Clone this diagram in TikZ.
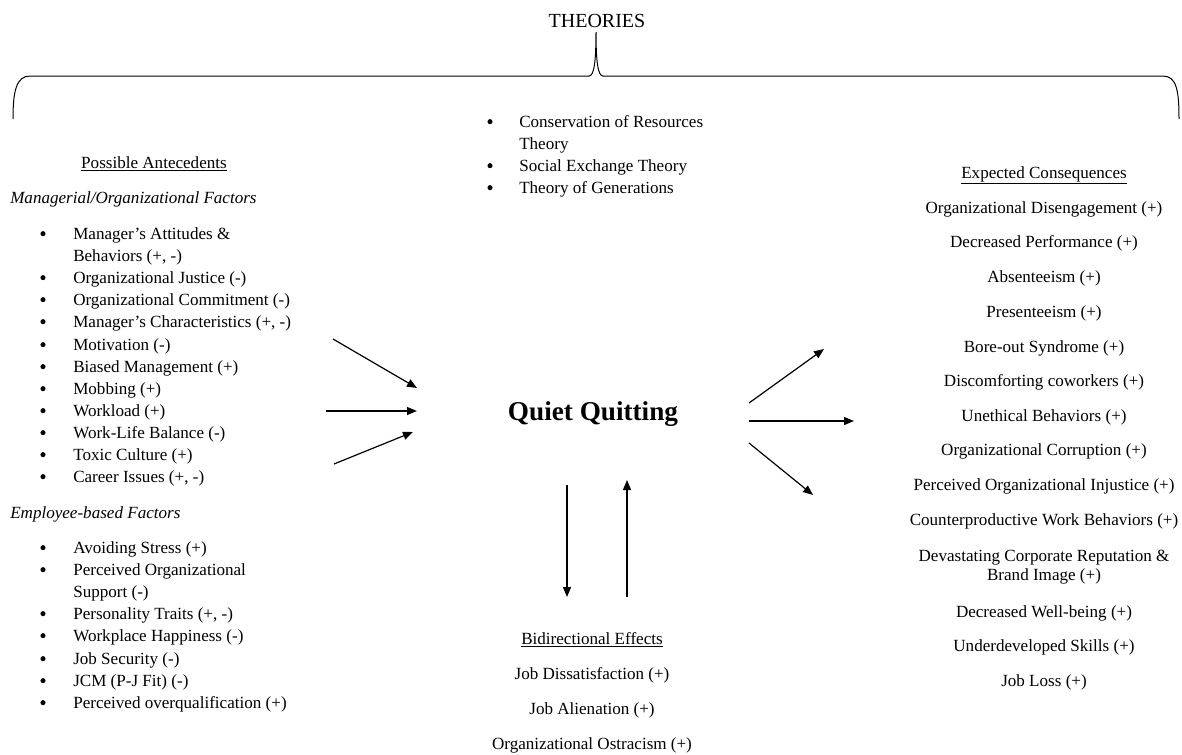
\documentclass[tikz,border=0pt]{standalone}
\usepackage{fontspec}
\setmainfont{Liberation Serif}
\usepackage{tikz}
\usetikzlibrary{arrows.meta}

\begin{document}
\begin{tikzpicture}[x=0.75pt,y=0.75pt,yscale=-1,xscale=1,
  txt/.style={inner sep=0pt,font=\fontsize{12.8}{15}\selectfont},
  bul/.style={circle,fill,inner sep=0pt,minimum size=3.8pt,yshift=4pt},
  arr/.style={line width=0.9pt,-{Triangle[length=7.5pt,width=6pt]}}]
\useasboundingbox (0,0) rectangle (1182,754); %set diagram to 1182 x 754

%Shape: Brace [id:theorybrace]
\draw [line width=0.75pt] (13,119) .. controls (13,92) and (16,76) .. (30,76) -- (589,76) .. controls (594,76) and (596,62) .. (596,32) .. controls (596,62) and (598,76) .. (603,76) -- (1163,76) .. controls (1177,76) and (1179,92) .. (1179,119) ;

% Text Node
\draw (597,27) node (theories) [inner sep=0pt,anchor=base,font=\fontsize{15}{18}\selectfont] {THEORIES};
% Text Node
\draw (490,127) node (tb1) [bul] {};
\draw (519,127) node (t1) [txt,anchor=base west] {Conservation of Resources};
\draw (519,149) node (t1b) [txt,anchor=base west] {Theory};
\draw (490,171) node (tb2) [bul] {};
\draw (519,171) node (t2) [txt,anchor=base west] {Social Exchange Theory};
\draw (490,193) node (tb3) [bul] {};
\draw (519,193) node (t3) [txt,anchor=base west] {Theory of Generations};

% Text Node
\draw (154,168) node (antec) [txt,anchor=base] {\underline{Possible Antecedents}};
% Text Node
\draw (10,203) node (mgrhead) [txt,anchor=base west] {\itshape Managerial/Organizational Factors};
% Text Node
\draw (43,239) node (mb1) [bul] {};
\draw (73,239) node (m1) [txt,anchor=base west] {Manager’s Attitudes \&};
\draw (73,261) node (m1b) [txt,anchor=base west] {Behaviors (+, -)};
\draw (43,283) node (mb2) [bul] {};
\draw (73,283) node (m2) [txt,anchor=base west] {Organizational Justice (-)};
\draw (43,305) node (mb3) [bul] {};
\draw (73,305) node (m3) [txt,anchor=base west] {Organizational Commitment (-)};
\draw (43,327) node (mb4) [bul] {};
\draw (73,327) node (m4) [txt,anchor=base west] {Manager’s Characteristics (+, -)};
\draw (43,350) node (mb5) [bul] {};
\draw (73,350) node (m5) [txt,anchor=base west] {Motivation (-)};
\draw (43,372) node (mb6) [bul] {};
\draw (73,372) node (m6) [txt,anchor=base west] {Biased Management (+)};
\draw (43,394) node (mb7) [bul] {};
\draw (73,394) node (m7) [txt,anchor=base west] {Mobbing (+)};
\draw (43,416) node (mb8) [bul] {};
\draw (73,416) node (m8) [txt,anchor=base west] {Workload (+)};
\draw (43,438) node (mb9) [bul] {};
\draw (73,438) node (m9) [txt,anchor=base west] {Work-Life Balance (-)};
\draw (43,460) node (mb10) [bul] {};
\draw (73,460) node (m10) [txt,anchor=base west] {Toxic Culture (+)};
\draw (43,482) node (mb11) [bul] {};
\draw (73,482) node (m11) [txt,anchor=base west] {Career Issues (+, -)};

% Text Node
\draw (10,518) node (emphead) [txt,anchor=base west] {\itshape Employee-based Factors};
% Text Node
\draw (43,553) node (eb1) [bul] {};
\draw (73,553) node (e1) [txt,anchor=base west] {Avoiding Stress (+)};
\draw (43,575) node (eb2) [bul] {};
\draw (73,575) node (e2) [txt,anchor=base west] {Perceived Organizational};
\draw (73,597) node (e2b) [txt,anchor=base west] {Support (-)};
\draw (43,619) node (eb3) [bul] {};
\draw (73,619) node (e3) [txt,anchor=base west] {Personality Traits (+, -)};
\draw (43,641) node (eb4) [bul] {};
\draw (73,641) node (e4) [txt,anchor=base west] {Workplace Happiness (-)};
\draw (43,664) node (eb5) [bul] {};
\draw (73,664) node (e5) [txt,anchor=base west] {Job Security (-)};
\draw (43,686) node (eb6) [bul] {};
\draw (73,686) node (e6) [txt,anchor=base west] {JCM (P-J Fit) (-)};
\draw (43,708) node (eb7) [bul] {};
\draw (73,708) node (e7) [txt,anchor=base west] {Perceived overqualification (+)};

% Text Node
\draw (593,420) node (quiet) [inner sep=0pt,anchor=base,font=\fontsize{20.4}{24}\selectfont\bfseries] {Quiet Quitting};

% Text Node
\draw (1044,178) node (conseq) [txt,anchor=base] {\underline{Expected Consequences}};
\draw (1044,213) node (c1) [txt,anchor=base] {Organizational Disengagement (+)};
\draw (1044,247) node (c2) [txt,anchor=base] {Decreased Performance (+)};
\draw (1044,282) node (c3) [txt,anchor=base] {Absenteeism (+)};
\draw (1044,317) node (c4) [txt,anchor=base] {Presenteeism (+)};
\draw (1044,352) node (c5) [txt,anchor=base] {Bore-out Syndrome (+)};
\draw (1044,386) node (c6) [txt,anchor=base] {Discomforting coworkers (+)};
\draw (1044,421) node (c7) [txt,anchor=base] {Unethical Behaviors (+)};
\draw (1044,455) node (c8) [txt,anchor=base] {Organizational Corruption (+)};
\draw (1044,490) node (c9) [txt,anchor=base] {Perceived Organizational Injustice (+)};
\draw (1044,525) node (c10) [txt,anchor=base] {Counterproductive Work Behaviors (+)};
\draw (1044,561) node (c11) [txt,anchor=base] {Devastating Corporate Reputation \&};
\draw (1044,580) node (c11b) [txt,anchor=base] {Brand Image (+)};
\draw (1044,617) node (c12) [txt,anchor=base] {Decreased Well-being (+)};
\draw (1044,651) node (c13) [txt,anchor=base] {Underdeveloped Skills (+)};
\draw (1044,686) node (c14) [txt,anchor=base] {Job Loss (+)};

% Text Node
\draw (592,644) node (bidir) [txt,anchor=base] {\underline{Bidirectional Effects}};
\draw (592,679) node (d1) [txt,anchor=base] {Job Dissatisfaction (+)};
\draw (592,714) node (d2) [txt,anchor=base] {Job Alienation (+)};
\draw (592,749) node (d3) [txt,anchor=base] {Organizational Ostracism (+)};

% Arrow ends
\coordinate (in1s) at (333,339); \coordinate (in1e) at (417,388);
\coordinate (in2s) at (326,411); \coordinate (in2e) at (417,411);
\coordinate (in3s) at (334,464); \coordinate (in3e) at (413,432);
\coordinate (out1s) at (749,403); \coordinate (out1e) at (824,349);
\coordinate (out2s) at (749,421); \coordinate (out2e) at (854,421);
\coordinate (out3s) at (749,443); \coordinate (out3e) at (813,495);
\coordinate (downs) at (567,485); \coordinate (downe) at (567,597);
\coordinate (ups) at (627,597); \coordinate (upe) at (627,480);

%Straight Lines [id:antecedent arrows]
\draw [arr] (in1s) -- (in1e) ;
\draw [arr] (in2s) -- (in2e) ;
\draw [arr] (in3s) -- (in3e) ;
%Straight Lines [id:consequence arrows]
\draw [arr] (out1s) -- (out1e) ;
\draw [arr] (out2s) -- (out2e) ;
\draw [arr] (out3s) -- (out3e) ;
%Straight Lines [id:bidirectional arrows]
\draw [arr] (downs) -- (downe) ;
\draw [arr] (ups) -- (upe) ;
\end{tikzpicture}
\end{document}
